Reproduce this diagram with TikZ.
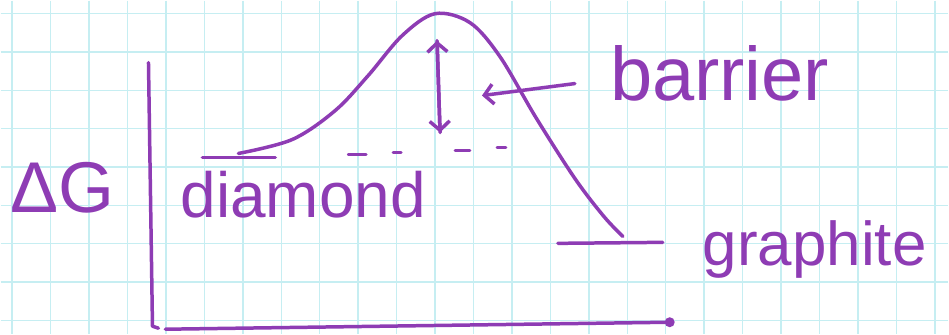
\documentclass[tikz,border=0pt]{standalone}
\usepackage{fontspec}
\setmainfont{Liberation Sans}
\usepackage{xcolor}
\usetikzlibrary{arrows.meta}
\definecolor{kink}{HTML}{8E3CB4}
\definecolor{kgrid}{HTML}{C6EEF2}

\begin{document}
\begin{tikzpicture}[x=1pt, y=-1pt,
  pen/.style={kink, line width=3.5pt, line cap=round, line join=round},
  hand/.style={text=kink, anchor=base west, inner sep=0pt},
  barb/.style={-{Straight Barb[length=9pt, width=20pt]}}]

  %% Squared paper
  \fill[white] (0,0) rectangle (949,334);
  \foreach \i in {0,...,24}{
    \draw[kgrid, line width=1.4pt] ({11.5+\i*38.5},0) -- ({11.5+\i*38.5},334);
  }
  \foreach \j in {0,...,8}{
    \draw[kgrid, line width=1.4pt] (0,{13+\j*38.4}) -- (949,{13+\j*38.4});
  }
  \useasboundingbox (0,0) rectangle (949,334);

  %% Axes
  \coordinate (ytop) at (148,62);
  \coordinate (origin) at (152,326);
  \coordinate (xstart) at (165,329);
  \coordinate (xend) at (670,322);
  \draw[pen] (ytop) -- (origin) -- ++(6,2);
  \draw[pen] (xstart) -- (xend);
  \fill[kink] (xend) circle (5);

  %% Energy levels
  \coordinate (diaL) at (202,157);
  \coordinate (diaR) at (275,157);
  \coordinate (graL) at (558,243);
  \coordinate (graR) at (663,242);
  \draw[pen] (diaL) -- (diaR);
  \draw[pen] (graL) -- (graR);

  %% Reaction curve
  \draw[pen] plot[smooth, tension=0.55] coordinates {
    (238,153) (292,139) (335,110) (368,75) (402,35) (435,13)
    (470,22) (500,56) (536,117) (575,178) (604,216) (623,236)};

  %% Dashed reference level
  \foreach \a/\b/\y in {348/366/154, 393/401/152, 455/470/150, 497/506/147}{
    \draw[pen, line width=2.8pt] (\a,\y) -- (\b,\y);
  }

  %% Barrier height
  \coordinate (gapbot) at (440,132);
  \coordinate (gaptop) at (437,40);
  \draw[pen, barb] (gapbot) -- (gaptop);
  \draw[pen, barb] (gaptop) -- (gapbot);

  %% Labels
  \node[hand, font=\fontsize{72}{80}\selectfont] (dG) at (10,212) {ΔG};
  \node[hand, font=\fontsize{64}{70}\selectfont] (diamond) at (180,217) {diamond};
  \node[hand, font=\fontsize{76}{84}\selectfont] (barrier) at (610,100) {barrier};
  \node[hand, font=\fontsize{62}{70}\selectfont] (graphite) at (703,265) {graphite};

  \coordinate (bartail) at (575,83);
  \coordinate (bartip) at (482,95);
  \draw[pen, barb] (bartail) -- (bartip);

\end{tikzpicture}
\end{document}
